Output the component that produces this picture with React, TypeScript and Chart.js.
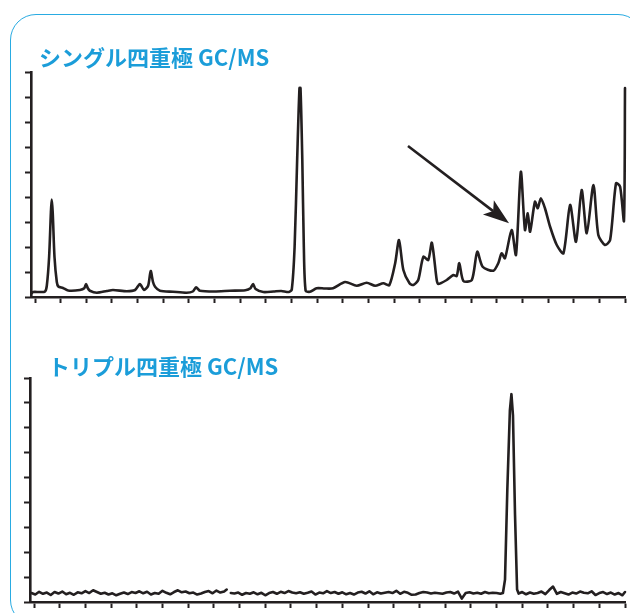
import React, { useEffect, useRef } from "react";
import { Chart, registerables } from "chart.js";

Chart.register(...registerables);

// ---- data ----
const titleSingle = "シングル四重極 GC/MS";
const titleTriple = "トリプル四重極 GC/MS";

const timeTicks = [0, 1, 2, 3, 4, 5, 6, 7, 8, 9, 10, 11, 12, 13, 14, 15, 16, 17, 18, 19, 20, 21, 22, 23];
const intensityTicks = [0, 1, 2, 3, 4, 5, 6, 7, 8, 9];

const singleTimes = [
  -0.13, -0.08, 0.19, 0.39, 0.46, 0.55, 0.62, 0.65, 0.69, 0.76, 0.85, 0.91, 1.09, 1.29, 1.75, 1.92, 1.99,
  2.06, 2.14, 2.41, 2.8, 3.04, 3.58, 3.9, 4.09, 4.25, 4.41, 4.51, 4.6, 4.68, 4.87, 5.38, 5.91, 6.15, 6.28,
  6.43, 7.0, 7.6, 8.2, 8.4, 8.5, 8.6, 8.9, 9.3, 9.6, 9.9, 10.01, 10.12, 10.22, 10.31, 10.35, 10.42, 10.48,
  10.55, 10.72, 10.98, 11.3, 11.62, 12.09, 12.54, 12.93, 13.26, 13.58, 13.81, 14.04, 14.19, 14.36, 14.6,
  14.75, 14.94, 15.14, 15.33, 15.47, 15.66, 15.72, 16.05, 16.31, 16.44, 16.54, 16.7, 17.03, 17.24, 17.45,
  17.87, 18.06, 18.19, 18.32, 18.58, 18.75, 18.94, 19.1, 19.21, 19.3, 19.49, 19.6, 19.72, 19.88, 20.08,
  20.34, 20.6, 20.86, 21.09, 21.31, 21.51, 21.77, 21.96, 22.22, 22.42, 22.65, 22.81, 22.96, 23.0,
];
const singleIntensity = [
  0.15, 0.2, 0.2, 0.22, 0.45, 1.6, 3.4, 3.9, 3.4, 1.6, 0.6, 0.42, 0.36, 0.26, 0.28, 0.35, 0.52,
  0.35, 0.25, 0.17, 0.24, 0.28, 0.23, 0.28, 0.52, 0.28, 0.45, 1.04, 0.6, 0.41, 0.25, 0.21, 0.17, 0.22, 0.39,
  0.25, 0.22, 0.25, 0.27, 0.35, 0.52, 0.32, 0.2, 0.22, 0.24, 0.2, 0.3, 2.0, 5.5, 8.36, 8.36, 5.5, 2.0,
  0.25, 0.21, 0.35, 0.34, 0.35, 0.6, 0.45, 0.57, 0.45, 0.55, 0.47, 1.35, 2.28, 1.08, 0.55,
  0.48, 0.68, 1.61, 1.48, 2.17, 0.68, 0.52, 0.68, 0.88, 0.84, 1.35, 0.64, 0.68, 1.81, 1.21,
  1.05, 1.35, 1.75, 1.55, 2.68, 1.68, 5.01, 2.68, 3.35, 2.61, 3.81, 3.55, 3.95, 3.55, 2.81,
  2.08, 1.75, 3.68, 2.21, 4.28, 2.55, 4.48, 2.48, 2.08, 2.28, 4.55, 4.41, 3.05, 8.36,
];

const tripleTimes = [
  -0.1, 0.05, 0.2, 0.35, 0.5, 0.65, 0.8, 0.95, 1.1, 1.25, 1.4, 1.55, 1.7, 1.85, 2.0, 2.15, 2.3, 2.45, 2.6,
  2.75, 2.9, 3.05, 3.2, 3.35, 3.5, 3.65, 3.8, 3.95, 4.1, 4.25, 4.4, 4.55, 4.7, 4.85, 5.0, 5.15, 5.3, 5.45,
  5.6, 5.75, 5.9, 6.05, 6.2, 6.35, 6.5, 6.65, 6.8, 6.95, 7.1, 7.25, 7.4,
  7.5, 7.58, 7.66,
  7.8, 7.95, 8.1, 8.25, 8.4, 8.55, 8.7, 8.85, 9.0, 9.15, 9.3, 9.45, 9.6, 9.75, 9.9, 10.05, 10.2, 10.35,
  10.5, 10.65, 10.8, 10.95, 11.1, 11.25, 11.4, 11.55, 11.7, 11.85, 12.0, 12.15, 12.3, 12.45, 12.6, 12.75,
  12.9, 13.05, 13.2, 13.35, 13.5, 13.65, 13.8, 13.95, 14.1, 14.25, 14.4, 14.55, 14.7, 14.85, 15.0, 15.15,
  15.3, 15.45, 15.6, 15.75, 15.9, 16.05, 16.2, 16.35, 16.5, 16.65, 16.8, 16.95, 17.1, 17.25, 17.4, 17.55,
  17.7, 17.85, 18.0, 18.15,
  18.25, 18.33, 18.42, 18.52, 18.58, 18.64, 18.72, 18.8, 18.86,
  19.0, 19.15, 19.3, 19.45, 19.6, 19.75, 19.9, 20.05, 20.2, 20.35, 20.5, 20.65, 20.8, 20.95, 21.1, 21.25,
  21.4, 21.55, 21.7, 21.85, 22.0, 22.15, 22.3, 22.45, 22.6, 22.75, 22.9, 23.0,
];
const tripleIntensity = [
  0.36, 0.3, 0.41, 0.33, 0.38, 0.28, 0.4, 0.34, 0.42, 0.31, 0.37, 0.29, 0.39, 0.35, 0.44, 0.36, 0.47, 0.4, 0.33,
  0.37, 0.3, 0.35, 0.27, 0.33, 0.38, 0.32, 0.4, 0.36, 0.43, 0.35, 0.41, 0.3, 0.36, 0.33, 0.45, 0.37, 0.31, 0.4,
  0.47, 0.39, 0.42, 0.35, 0.38, 0.3, 0.34, 0.4, 0.44, 0.35, 0.46, 0.38, 0.42,
  0.5, null, 0.36,
  0.34, 0.38, 0.29, 0.36, 0.33, 0.39, 0.31, 0.37, 0.27, 0.36, 0.4, 0.33, 0.41, 0.36, 0.44, 0.38, 0.35, 0.39,
  0.33, 0.37, 0.42, 0.3, 0.38, 0.35, 0.44, 0.36, 0.4, 0.33, 0.39, 0.31, 0.36, 0.3, 0.38, 0.41,
  0.34, 0.43, 0.31, 0.39, 0.34, 0.37, 0.4, 0.36, 0.45, 0.33, 0.41, 0.37, 0.29, 0.3, 0.36, 0.4,
  0.38, 0.34, 0.37, 0.35, 0.33, 0.38, 0.4, 0.34, 0.42, 0.14, 0.36, 0.39, 0.34, 0.37, 0.33, 0.4,
  0.35, 0.37, 0.36, 0.33,
  0.36, 0.9, 4.5, 7.7, 8.35, 7.5, 3.5, 0.5, 0.34,
  0.4, 0.31, 0.38, 0.33, 0.36, 0.42, 0.32, 0.48, 0.62, 0.33, 0.4, 0.35, 0.3, 0.38, 0.34, 0.42,
  0.37, 0.35, 0.43, 0.28, 0.36, 0.4, 0.32, 0.38, 0.3, 0.36, 0.27, 0.4,
];

// arrow annotation (time, intensity) of tail and tip
const arrowTail = [14.54, 6.04];
const arrowTip = [18.48, 2.95];

const INK = "#231f20";
const BLUE = "#1b9dd9";

type Props = {
  times: number[];
  values: (number | null)[];
  top: number;
  height: number;
  padTop: number;
  axisLeft: number;
  tension: number;
  arrow?: boolean;
};

function Chromatogram({ times, values, top, height, padTop, axisLeft, tension, arrow }: Props) {
  const ref = useRef<HTMLCanvasElement | null>(null);
  useEffect(() => {
    if (!ref.current) return;
    const arrowPlugin = {
      id: "arrowNote",
      afterDatasetsDraw(chart: any) {
        if (!arrow) return;
        const xs = chart.scales.x;
        const ys = chart.scales.y;
        const x1 = xs.getPixelForValue(arrowTail[0]);
        const y1 = ys.getPixelForValue(arrowTail[1]);
        const x2 = xs.getPixelForValue(arrowTip[0]);
        const y2 = ys.getPixelForValue(arrowTip[1]);
        const ang = Math.atan2(y2 - y1, x2 - x1);
        const len = 26;
        const half = 9;
        const ctx = chart.ctx;
        ctx.save();
        ctx.strokeStyle = INK;
        ctx.fillStyle = INK;
        ctx.lineWidth = 2.6;
        const bx = x2 - Math.cos(ang) * (len - 6);
        const by = y2 - Math.sin(ang) * (len - 6);
        ctx.beginPath();
        ctx.moveTo(x1, y1);
        ctx.lineTo(bx, by);
        ctx.stroke();
        const baseX = x2 - Math.cos(ang) * len;
        const baseY = y2 - Math.sin(ang) * len;
        const px = -Math.sin(ang);
        const py = Math.cos(ang);
        ctx.beginPath();
        ctx.moveTo(x2, y2);
        ctx.lineTo(baseX + px * half, baseY + py * half);
        ctx.lineTo(bx, by);
        ctx.lineTo(baseX - px * half, baseY - py * half);
        ctx.closePath();
        ctx.fill();
        ctx.restore();
      },
    };
    const axisGrid = {
      display: true,
      drawOnChartArea: false,
      drawTicks: true,
      tickLength: 6,
      tickWidth: 2,
      tickColor: INK,
    };
    const chart = new Chart(ref.current, {
      type: "line",
      data: {
        datasets: [
          {
            data: times.map((t, i) => ({ x: t, y: values[i] })),
            borderColor: INK,
            borderWidth: 2.6,
            borderJoinStyle: "round",
            borderCapStyle: "round",
            pointRadius: 0,
            tension,
            spanGaps: false,
            clip: false,
          } as any,
        ],
      },
      options: {
        animation: false,
        responsive: false,
        maintainAspectRatio: false,
        events: [],
        layout: { padding: { top: padTop, right: 5, bottom: 0, left: 0 } },
        plugins: { legend: { display: false }, tooltip: { enabled: false }, title: { display: false } },
        scales: {
          x: {
            type: "linear",
            min: -0.156,
            max: 23,
            afterBuildTicks: (s: any) => {
              s.ticks = timeTicks.map((v) => ({ value: v }));
            },
            afterFit: (s: any) => {
              s.height = 10;
            },
            ticks: { display: false },
            grid: axisGrid,
            border: { display: true, color: INK, width: 2.6 },
          },
          y: {
            type: "linear",
            min: 0,
            max: 9,
            afterBuildTicks: (s: any) => {
              s.ticks = intensityTicks.map((v) => ({ value: v }));
            },
            afterFit: (s: any) => {
              s.width = axisLeft;
            },
            ticks: { display: false },
            grid: axisGrid,
            border: { display: true, color: INK, width: 2.6 },
          },
        },
      } as any,
      plugins: [arrowPlugin],
    });
    return () => chart.destroy();
  }, []);
  return (
    <canvas
      ref={ref}
      width={630}
      height={height}
      style={{ position: "absolute", left: 0, top, width: 630, height, display: "block" }}
    />
  );
}

const titleStyle: React.CSSProperties = {
  position: "absolute",
  fontFamily: '"Noto Sans CJK JP", "Noto Sans", sans-serif',
  fontWeight: 700,
  fontSize: 22,
  lineHeight: "22px",
  color: BLUE,
  whiteSpace: "nowrap",
  zIndex: 2,
};

export default function App() {
  return (
    <div
      style={{
        position: "fixed",
        left: 0,
        top: 0,
        width: 630,
        height: 613,
        overflow: "hidden",
        background: "#ffffff",
      }}
    >
      <div
        style={{
          position: "absolute",
          left: 10,
          top: 14,
          width: 634,
          height: 612,
          border: "1.8px solid #29abe2",
          borderRadius: 26,
          boxSizing: "border-box",
        }}
      />
      <div style={{ ...titleStyle, left: 39, top: 45 }}>{titleSingle}</div>
      <div style={{ ...titleStyle, left: 48, top: 354 }}>{titleTriple}</div>
      <Chromatogram times={singleTimes} values={singleIntensity} top={60} height={247} padTop={12} axisLeft={31} tension={0.25} arrow />
      <Chromatogram times={tripleTimes} values={tripleIntensity} top={370} height={242} padTop={8} axisLeft={30} tension={0} />
    </div>
  );
}
